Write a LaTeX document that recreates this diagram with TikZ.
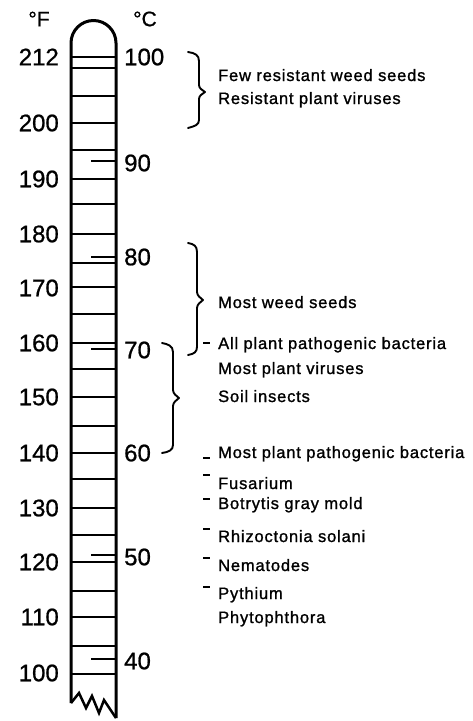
\documentclass[tikz,border=0pt]{standalone}
\usepackage{fontspec}
\setmainfont{Liberation Sans}
\newfontfamily\labfont[LetterSpace=5,FakeBold=1.2]{Liberation Sans}
\newfontfamily\numfont[FakeBold=0.8]{Liberation Sans}
\begin{document}
\begin{tikzpicture}[x=1pt,y=-1pt,
  tube/.style={line width=3pt,line join=round},
  fline/.style={line width=1.9pt},
  cline/.style={line width=1.6pt},
  bracepath/.style={line width=1.9pt,line join=round,line cap=round},
  tempdash/.style={line width=1.6pt},
  num/.style={inner sep=0pt,font=\numfont\fontsize{24}{24}\selectfont},
  unit/.style={inner sep=0pt,font=\numfont\fontsize{21}{21}\selectfont},
  lab/.style={inner sep=0pt,anchor=base west,font=\labfont\fontsize{16.5}{16.5}\selectfont}]
\useasboundingbox (0,0) rectangle (472,721);
% thermometer
\draw[tube] (71,703) -- (71,43) arc[start angle=180,end angle=360,radius=22.5] -- (116,718);
\draw[line width=2.5pt,line join=miter] (71,703) -- (79,693) -- (86,708) -- (92,696) -- (99,713) -- (104,700) -- (116,718);
\foreach \yy in {57,68,96,123,150,179,204,234,263,287,314,343,369,397,426,453,479,508,535,562,591,617,646,674}
  \draw[fline] (71,\yy) -- (116,\yy);
\foreach \yy in {161,257,349,555,659}
  \draw[cline] (91,\yy) -- (116,\yy);
% units
\node[unit] (uf) at (39,19) {°F};
\node[unit] (uc) at (145,19) {°C};
% Fahrenheit numbers
\foreach \yy/\t in {57/212,123/200,179/190,234/180,288/170,343/160,397/150,453/140,508/130,562/120,617/110,673/100}
  \node[num,anchor=east] at (59,\yy) {\t};
% Celsius numbers
\foreach \yy/\t in {57/100,163/90,257/80,350/70,453/60,557/50,661/40}
  \node[num,anchor=west] at (124,\yy) {\t};
% braces
\draw[bracepath] (188,52) .. controls (195,53) and (199,55) .. (199,61) -- (199,85)
  .. controls (199,89) and (203,90) .. (205,92) .. controls (203,94) and (199,95) .. (199,99)
  -- (199,120) .. controls (199,125) and (195,126) .. (188,128);
\draw[bracepath] (188,243) .. controls (194,244) and (197,246) .. (197,252) -- (197,292)
  .. controls (197,296) and (201,298) .. (203,300) .. controls (201,302) and (197,304) .. (197,308)
  -- (197,347) .. controls (197,352) and (194,354) .. (188,355);
\draw[bracepath] (162,343) .. controls (168,344) and (173,346) .. (173,352) -- (173,390)
  .. controls (173,394) and (177,396) .. (179,398) .. controls (177,400) and (173,402) .. (173,406)
  -- (173,445) .. controls (173,450) and (169,452) .. (162,453);
% labels
\node[lab] (t1) at (218,81) {Few resistant weed seeds};
\node[lab] (t2) at (218,104) {Resistant plant viruses};
\node[lab] (t3) at (218,308) {Most weed seeds};
\node[lab] (t4) at (218,349) {All plant pathogenic bacteria};
\node[lab] (t5) at (218,374) {Most plant viruses};
\node[lab] (t6) at (218,402) {Soil insects};
\node[lab] (t7) at (218,458) {Most plant pathogenic bacteria};
\node[lab] (t8) at (218,489) {Fusarium};
\node[lab] (t9) at (218,509) {Botrytis gray mold};
\node[lab] (t10) at (218,542) {Rhizoctonia solani};
\node[lab] (t11) at (218,571) {Nematodes};
\node[lab] (t12) at (218,599) {Pythium};
\node[lab] (t13) at (218,623) {Phytophthora};
% temperature marks
\foreach \yy/\dy in {343/0,456/2,478/-3,500/-1,532/-3,561/-3,589/-2}
  \draw[tempdash] (203,\yy+\dy) -- (210,\yy+\dy);
\end{tikzpicture}
\end{document}
